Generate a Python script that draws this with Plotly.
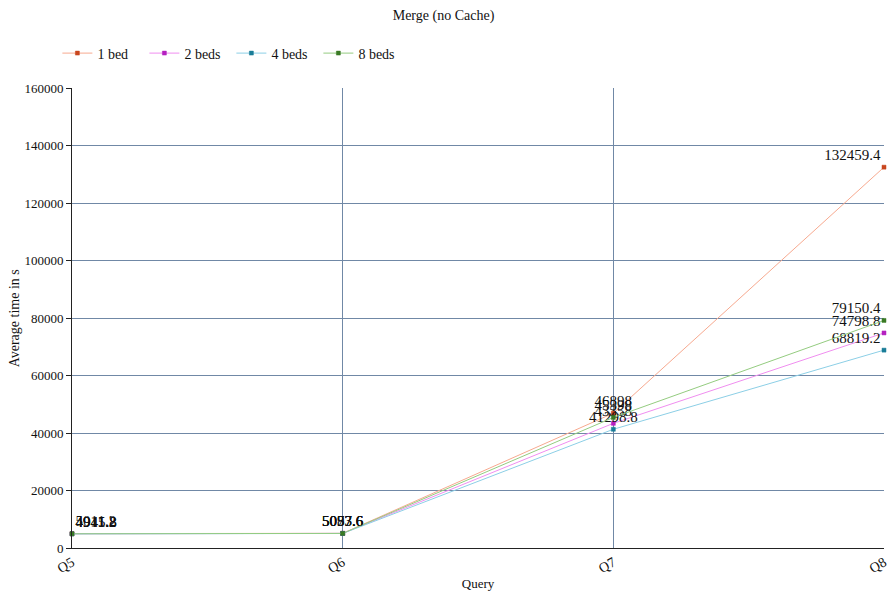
import plotly.graph_objects as go

queries = ["Q5", "Q6", "Q7", "Q8"]

one_bed = [5011.2, 5093.6, 46898, 132459.4]
two_beds = [4945.8, 5087.6, 43358, 74798.8]
four_beds = [4911.2, 5057.6, 41298.8, 68819.2]
eight_beds = [4941.8, 5073.6, 45398, 79150.4]

series = [
    ("1 bed", one_bed, "#f7a98f", "#c8461e"),
    ("2 beds", two_beds, "#f08ef0", "#b520c0"),
    ("4 beds", four_beds, "#8ccfe6", "#1a7d98"),
    ("8 beds", eight_beds, "#94cc80", "#3a7a24"),
]

positions = ["top right", "top center", "top center", "top left"]


def fmt(v):
    s = f"{v:.1f}"
    return s[:-2] if s.endswith(".0") else s


fig = go.Figure()
for name, vals, line_col, mark_col in series:
    fig.add_trace(go.Scatter(
        x=queries, y=vals, name=name, mode="lines+markers+text",
        line=dict(color=line_col, width=1),
        marker=dict(symbol="square", size=4, color=mark_col,
                    line=dict(color=mark_col, width=0.5)),
        text=[fmt(v) for v in vals],
        textposition=positions,
        textfont=dict(family="Liberation Serif", size=15, color="#111111"),
        cliponaxis=False,
    ))

fig.update_layout(
    width=887, height=591,
    margin=dict(l=72, r=3, t=88, b=43, autoexpand=False),
    paper_bgcolor="white", plot_bgcolor="white",
    font=dict(family="Liberation Serif", size=14, color="#111111"),
    title=dict(text="Merge (no Cache)", x=0.5, xanchor="center", y=0.975, yanchor="middle",
               font=dict(family="Liberation Serif", size=14)),
    legend=dict(orientation="h", x=-0.018, xanchor="left", y=1.075, yanchor="middle",
                font=dict(family="Liberation Serif", size=14),
                itemwidth=30, entrywidth=42, entrywidthmode="pixels",
                bgcolor="rgba(0,0,0,0)"),
    showlegend=True,
    annotations=[dict(
        text="Average time in s", textangle=-90,
        xref="paper", yref="paper", x=-0.071, y=0.5,
        xanchor="center", yanchor="middle", showarrow=False,
        font=dict(family="Liberation Serif", size=14, color="#111111"),
    )],
)

fig.update_xaxes(
    type="category", range=[0, 3], automargin=False,
    showgrid=True, gridcolor="#7088a6", gridwidth=1,
    showline=True, linecolor="#222222", linewidth=1,
    tickangle=-30, ticks="", tickfont=dict(family="Liberation Serif", size=14),
    title=dict(text="Query", font=dict(family="Liberation Serif", size=13), standoff=6),
    zeroline=False,
)
fig.update_yaxes(
    range=[0, 160000], dtick=20000, tickformat="d", automargin=False,
    showgrid=True, gridcolor="#7088a6", gridwidth=1,
    showline=True, linecolor="#222222", linewidth=1,
    ticks="outside", ticklen=5, tickcolor="#222222",
    tickfont=dict(family="Liberation Serif", size=13),
    zeroline=False,
)

fig.write_html("out.html")
